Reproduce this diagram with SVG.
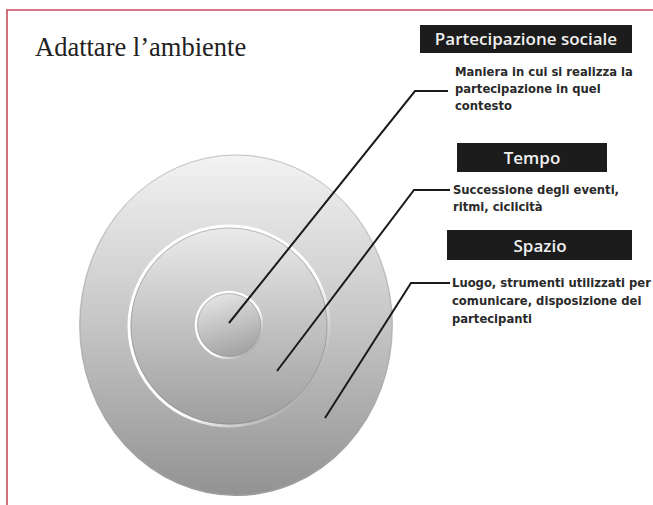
<svg xmlns="http://www.w3.org/2000/svg" width="653" height="505" viewBox="0 0 653 505">
<defs>
<linearGradient id="gOuter" x1="0" y1="0" x2="0" y2="1">
<stop offset="0" stop-color="#f3f3f3"/>
<stop offset="0.45" stop-color="#cacaca"/>
<stop offset="1" stop-color="#929292"/>
</linearGradient>
<linearGradient id="gMid" x1="0" y1="0" x2="0" y2="1">
<stop offset="0" stop-color="#ebebeb"/>
<stop offset="0.5" stop-color="#c2c2c2"/>
<stop offset="1" stop-color="#9e9e9e"/>
</linearGradient>
<linearGradient id="gIn" x1="0" y1="0" x2="0.3" y2="1">
<stop offset="0" stop-color="#ececec"/>
<stop offset="1" stop-color="#a6a6a6"/>
</linearGradient>
<linearGradient id="gRim" x1="0" y1="0" x2="1" y2="1">
<stop offset="0" stop-color="#ffffff"/>
<stop offset="0.6" stop-color="#ffffff"/>
<stop offset="1" stop-color="#858585"/>
</linearGradient>
</defs>
<style>
.title{font-family:"Liberation Serif","DejaVu Serif",serif;font-size:26.5px;fill:#222}
.head{fill:#1c1c1c}
.headtxt{font-family:"Open Sans","DejaVu Sans",sans-serif;font-size:17px;font-weight:600;fill:#f0f0f0;text-anchor:middle}
.desc{font-family:"DejaVu Sans","Liberation Sans",sans-serif;font-size:11.6px;font-weight:bold;fill:#2a2a2a}
.conn{fill:none;stroke:#1a1a1a;stroke-width:2;stroke-linejoin:miter}
</style>
<rect width="653" height="505" fill="#ffffff"/>
<path d="M7,505 V10 H653" fill="none" stroke="#c84a5a" stroke-width="1.6"/>
<text class="title" x="35" y="56">Adattare l’ambiente</text>

<g id="target">
<ellipse cx="236" cy="325" rx="158" ry="172" fill="url(#gOuter)" stroke="#ffffff" stroke-width="2"/>
<ellipse cx="236" cy="325" rx="156" ry="170" fill="none" stroke="#a8a8a8" stroke-width="1" opacity="0.6"/>
<circle cx="229" cy="326" r="100" fill="url(#gMid)" stroke="url(#gRim)" stroke-width="3"/>
<circle cx="229" cy="326" r="98" fill="none" stroke="#848484" stroke-width="1" opacity="0.5"/>
<circle cx="229" cy="325" r="33" fill="url(#gIn)" stroke="url(#gRim)" stroke-width="2.5"/>
<circle cx="229" cy="325" r="31.5" fill="none" stroke="#8a8a8a" stroke-width="1" opacity="0.5"/>
</g>

<g id="connectors">
<path class="conn" d="M229,323 L415,91 H448"/>
<path class="conn" d="M277,371 L414,190 H450"/>
<path class="conn" d="M325,418 L411,283 H450"/>
</g>

<g id="partecipazione">
<rect class="head" x="420" y="25" width="212" height="28"/>
<text class="headtxt" x="526" y="45">Partecipazione sociale</text>
<text class="desc" x="455" y="76">Maniera in cui si realizza la</text>
<text class="desc" x="455" y="93">partecipazione in quel</text>
<text class="desc" x="455" y="110">contesto</text>
</g>

<g id="tempo">
<rect class="head" x="457" y="143" width="150" height="29"/>
<text class="headtxt" x="532" y="163.5">Tempo</text>
<text class="desc" x="453" y="194">Successione degli eventi,</text>
<text class="desc" x="453" y="211">ritmi, ciclicità</text>
</g>

<g id="spazio">
<rect class="head" x="447" y="230" width="185" height="30"/>
<text class="headtxt" x="540" y="251.5">Spazio</text>
<text class="desc" x="452" y="287">Luogo, strumenti utilizzati per</text>
<text class="desc" x="452" y="305">comunicare, disposizione dei</text>
<text class="desc" x="452" y="323">partecipanti</text>
</g>
</svg>
